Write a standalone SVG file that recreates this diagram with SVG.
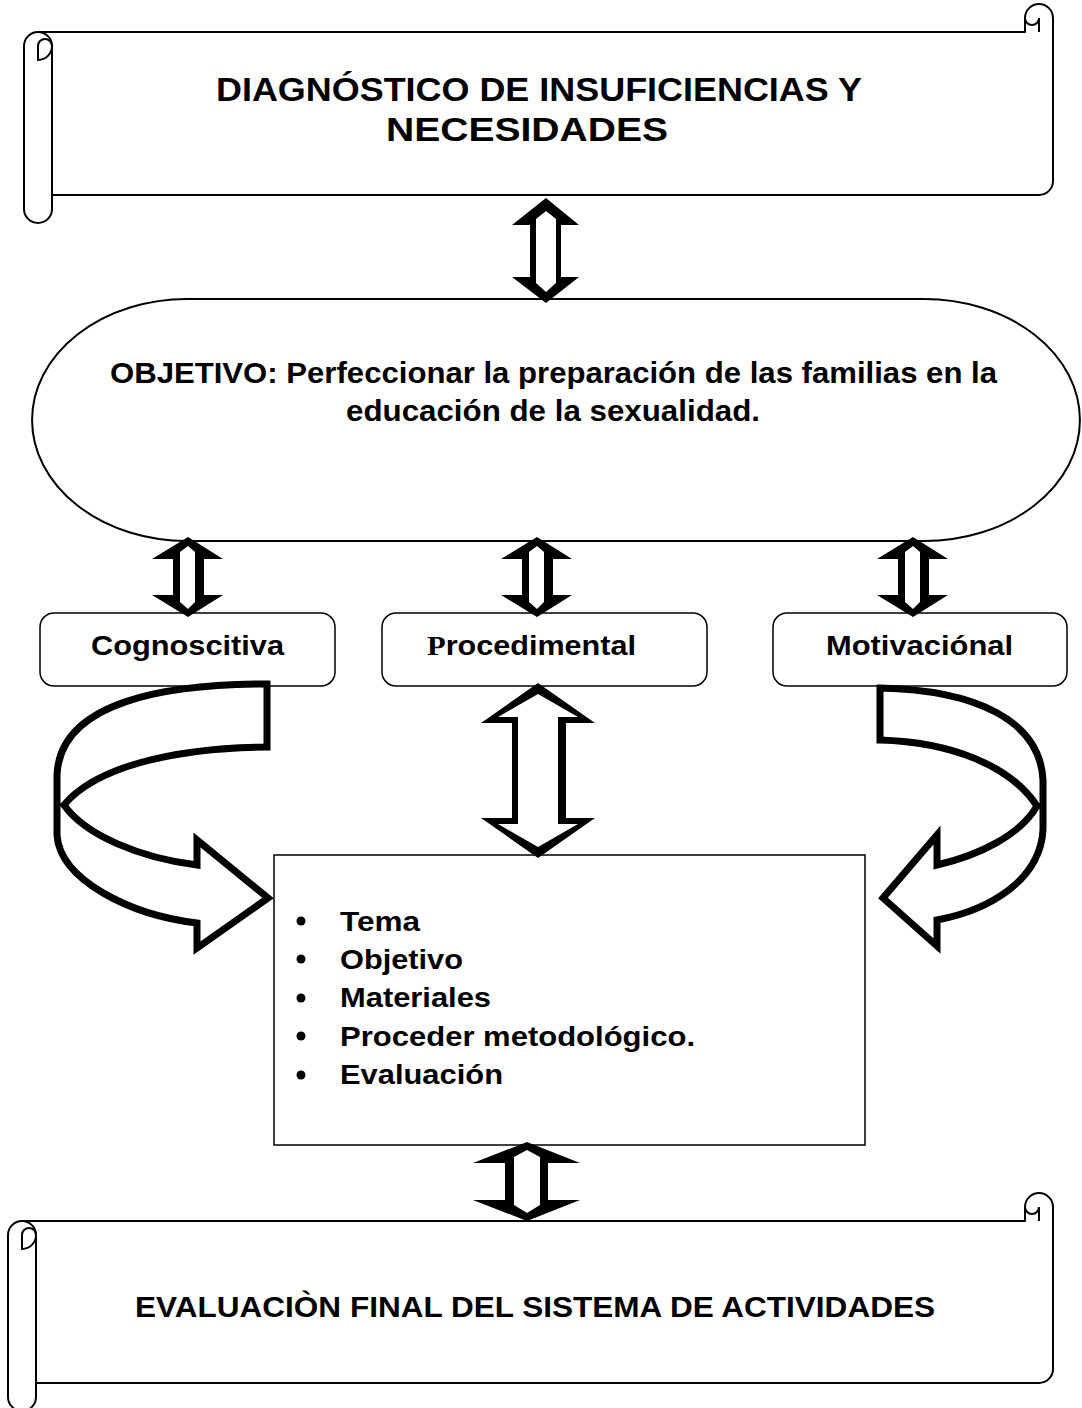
<svg xmlns="http://www.w3.org/2000/svg" width="1082" height="1408" viewBox="0 0 1082 1408">
<style>
.ln{fill:#fff;stroke:#000;stroke-width:2;stroke-linejoin:round}
.ln2{fill:none;stroke:#000;stroke-width:2}
.ao{fill:#000}
.ai{fill:#fff}
.arr{fill:#fff;stroke:#000;stroke-linejoin:miter;stroke-miterlimit:10}
.box{fill:#fff;stroke:#000;stroke-width:1.5}
.t{font-family:"Liberation Sans",Arial,sans-serif;font-weight:bold;fill:#000}
.s{font-family:"Liberation Serif","Times New Roman",serif;font-weight:bold}
</style>
<defs>
  <g id="smallArrow">
    <polygon class="ao" points="188,537 223,559 204,559 204,595 223,595 188,617 152,595 173,595 173,559 152,559"/>
    <polygon class="ai" points="188,546 195,552 195,602 188,609 180,602 180,552"/>
  </g>
</defs>
<rect width="1082" height="1408" fill="#fff"/>

<g id="diagnostico">
  <path class="ln" d="M38,32 L1025,32 L1025,18 A14,14 0 0 1 1053,18 L1053,181 A14,14 0 0 1 1039,195 L52,195 Z"/>
  <path class="ln" d="M52,46 L52,209 A14,14 0 0 1 24,209 L24,46 A14,14 0 0 1 52,46 Z"/>
  <path class="ln2" d="M52,46 A14,14 0 0 1 38,60 L38,46 A7,7 0 0 1 52,46"/>
  <path class="ln2" d="M1025,18 A7,7 0 0 0 1039,18 L1039,32"/>
  <text class="t" x="216" y="101" font-size="34" textLength="646" lengthAdjust="spacingAndGlyphs">DIAGNÓSTICO DE INSUFICIENCIAS Y</text>
  <text class="t" x="386" y="141" font-size="34" textLength="282" lengthAdjust="spacingAndGlyphs">NECESIDADES</text>
</g>

<g id="objetivo">
  <path class="ln" d="M187,299 L924,299 A156,121 0 0 1 924,541 L187,541 A155,121 0 0 1 187,299 Z"/>
  <text class="t" x="110" y="383" font-size="30" textLength="887" lengthAdjust="spacingAndGlyphs">OBJETIVO: Perfeccionar la preparación de las familias en la</text>
  <text class="t" x="346" y="421" font-size="30" textLength="414" lengthAdjust="spacingAndGlyphs">educación de la sexualidad.</text>
</g>

<g id="cognoscitiva">
  <rect class="box" x="40" y="613" width="295" height="73" rx="14"/>
  <text class="t" x="91" y="655" font-size="28" textLength="193" lengthAdjust="spacingAndGlyphs">Cognoscitiva</text>
</g>
<g id="procedimental">
  <rect class="box" x="382" y="613" width="325" height="73" rx="14"/>
  <text class="t" x="427" y="655" font-size="28" textLength="209" lengthAdjust="spacingAndGlyphs"><tspan class="s">P</tspan>rocedimental</text>
</g>
<g id="motivacional">
  <rect class="box" x="773" y="613" width="294" height="73" rx="14"/>
  <text class="t" x="826" y="655" font-size="28" textLength="187" lengthAdjust="spacingAndGlyphs">Motivaciónal</text>
</g>

<g id="actividades">
  <rect class="box" x="274" y="855" width="591" height="290"/>
  <g fill="#000">
    <circle cx="301" cy="921" r="4.5"/>
    <circle cx="301" cy="959" r="4.5"/>
    <circle cx="301" cy="998" r="4.5"/>
    <circle cx="301" cy="1036" r="4.5"/>
    <circle cx="301" cy="1075" r="4.5"/>
  </g>
  <text class="t" x="340" y="931" font-size="28" textLength="80" lengthAdjust="spacingAndGlyphs">Tema</text>
  <text class="t" x="340" y="969" font-size="28" textLength="123" lengthAdjust="spacingAndGlyphs">Objetivo</text>
  <text class="t" x="340" y="1007" font-size="28" textLength="151" lengthAdjust="spacingAndGlyphs">Materiales</text>
  <text class="t" x="340" y="1046" font-size="28" textLength="355" lengthAdjust="spacingAndGlyphs">Proceder metodológico.</text>
  <text class="t" x="340" y="1084" font-size="28" textLength="163" lengthAdjust="spacingAndGlyphs">Evaluación</text>
</g>

<g id="evaluacion-final">
  <path class="ln" d="M22,1221 L1025,1221 L1025,1207 A14,14 0 0 1 1053,1207 L1053,1369 A14,14 0 0 1 1039,1383 L36,1383 Z"/>
  <path class="ln" d="M36,1235 L36,1397 A14,14 0 0 1 8,1397 L8,1235 A14,14 0 0 1 36,1235 Z"/>
  <path class="ln2" d="M36,1235 A14,14 0 0 1 22,1249 L22,1235 A7,7 0 0 1 36,1235"/>
  <path class="ln2" d="M1025,1207 A7,7 0 0 0 1039,1207 L1039,1221"/>
  <text class="t" x="135" y="1317" font-size="29" textLength="800" lengthAdjust="spacingAndGlyphs">EVALUACIÒN FINAL DEL SISTEMA DE ACTIVIDADES</text>
</g>

<g id="connectors">
  <g id="arrow-top">
    <polygon class="ao" points="546,198 579,225 561,225 561,277 579,277 546,303 512,277 530,277 530,225 512,225"/>
    <polygon class="ai" points="546,211 556,219 556,283 546,292 536,283 536,219"/>
  </g>
  <use href="#smallArrow"/>
  <use href="#smallArrow" x="349"/>
  <use href="#smallArrow" x="725"/>
  <g id="arrow-mid">
    <polygon class="ao" points="538,683 595,723 566,723 566,818 595,818 538,858 481,818 512,818 512,723 481,723"/>
    <polygon class="ai" points="538,694 578,717 558,717 558,824 578,824 538,847 498,824 518,824 518,717 498,717"/>
  </g>
  <g id="arrow-bottom">
    <polygon class="ao" points="527,1142 580,1163 548,1163 548,1200 580,1200 527,1221 473,1200 505,1200 505,1163 473,1163"/>
    <polygon class="ai" points="527,1150 540,1157 540,1205 527,1213 514,1205 514,1157"/>
  </g>
  <path class="arr" stroke-width="7" d="M267,684 C170,684 60,700 57,775 L57,835 C60,880 130,915 197,923 L197,948 L268,898 L197,840 L197,865 C140,858 85,835 64,805 C95,768 170,748 267,747 Z"/>
  <path class="arr" stroke-width="7" d="M880,688 C975,690 1040,720 1043,780 L1043,830 C1040,880 990,910 937,920 L937,946 L883,898 L937,835 L937,865 C980,855 1020,835 1037,806 C1010,765 950,742 880,740 Z"/>
</g>
</svg>
